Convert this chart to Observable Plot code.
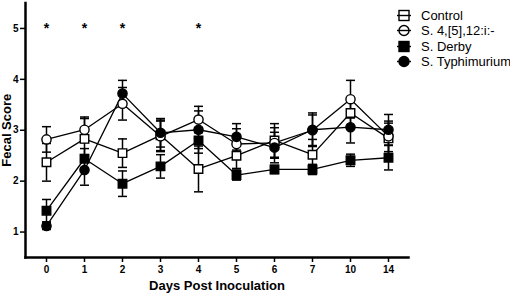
<!DOCTYPE html>
<html><head><meta charset="utf-8">
<script src="https://cdn.jsdelivr.net/npm/d3@7"></script>
<script src="https://cdn.jsdelivr.net/npm/@observablehq/plot@0.6"></script>
<style>
body{margin:0;background:#fff;font-family:"Liberation Sans",Arial,sans-serif;}
#wrap{position:relative;width:510px;height:295px;}
#legend{position:absolute;left:396px;top:8px;font-size:13px;line-height:15.3px;color:#000;}
#legend div{display:flex;align-items:center;white-space:nowrap;}
#legend svg{margin-right:9px;}
</style></head>
<body><div id="wrap"><div id="chart"></div><div id="legend"></div></div>
<script>
const days = ["0","1","2","3","4","5","6","7","10","14"];
const seriesNames = ["Control","S. 4,[5],12:i:-","S. Derby","S. Typhimurium"];
const controlMean = [2.37,2.83,2.55,2.90,2.24,2.50,2.80,2.52,3.34,2.84];
const controlSem  = [0.37,0.40,0.28,0.30,0.45,0.25,0.33,0.30,0.30,0.30];
const monoMean    = [2.82,3.01,3.52,2.88,3.21,2.73,2.75,3.00,3.61,2.88];
const monoSem     = [0.25,0.25,0.32,0.30,0.26,0.30,0.30,0.30,0.37,0.30];
const derbyMean   = [1.42,2.44,1.95,2.29,2.80,2.12,2.23,2.23,2.41,2.46];
const derbySem    = [0.22,0.20,0.25,0.23,0.25,0.10,0.08,0.10,0.12,0.24];
const typhMean    = [1.12,2.22,3.72,2.95,3.01,2.87,2.66,3.01,3.06,3.01];
const typhSem     = [0.07,0.30,0.26,0.28,0.37,0.26,0.30,0.33,0.31,0.30];
const starDays = ["0","1","2","4"];
const starLevel = 5;
const yTicks = [1,2,3,4,5];

const means = [controlMean, monoMean, derbyMean, typhMean];
const sems = [controlSem, monoSem, derbySem, typhSem];
const symbols = ["square","circle","square","circle"];
const fills = ["white","white","black","black"];
const data = [];
seriesNames.forEach((s,i)=>days.forEach((d,j)=>data.push({series:s, idx:i, day:d, mean:means[i][j], sem:sems[i][j]})));

const capSymbol = {draw(ctx, size){ ctx.moveTo(-4.5,0); ctx.lineTo(4.5,0); }};

const marks = [];
seriesNames.forEach((s,i)=>{
  const rows = data.filter(r=>r.idx===i);
  marks.push(Plot.ruleX(rows,{x:"day", y1:r=>r.mean-r.sem, y2:r=>r.mean+r.sem, stroke:"black", strokeWidth:1.5}));
  marks.push(Plot.dot(rows,{x:"day", y:r=>r.mean-r.sem, symbol:capSymbol, stroke:"black", strokeWidth:1.5, r:3}));
  marks.push(Plot.dot(rows,{x:"day", y:r=>r.mean+r.sem, symbol:capSymbol, stroke:"black", strokeWidth:1.5, r:3}));
  marks.push(Plot.line(rows,{x:"day", y:"mean", stroke:"black", strokeWidth:1.3}));
});
seriesNames.forEach((s,i)=>{
  const rows = data.filter(r=>r.idx===i);
  marks.push(Plot.dot(rows,{x:"day", y:"mean", symbol:symbols[i], r: symbols[i]==="square"?4.8:4.6, fill:fills[i], stroke:"black", strokeWidth:1.4}));
});

const chart = Plot.plot({
  width:510, height:295,
  marginLeft:25, marginRight:102, marginTop:2.5, marginBottom:38,
  style:{fontFamily:"Liberation Sans, Arial, sans-serif", fontSize:"10px", fontWeight:"bold", color:"black", background:"white"},
  x:{type:"band", domain:days, padding:0, label:null},
  y:{domain:[0.5,5.5], label:null},
  marks:[
    Plot.axisX({tickSize:5, tickPadding:3, strokeWidth:1.5, fontWeight:"bold", fontSize:10}),
    Plot.axisY({ticks:yTicks, tickFormat:d=>String(d), tickSize:5, tickPadding:2, strokeWidth:1.5, fontWeight:"bold", fontSize:10}),
    Plot.frame({anchor:"left", strokeWidth:2.5}),
    Plot.frame({anchor:"bottom", strokeWidth:2.5}),
    Plot.text(["Days Post Inoculation"],{frameAnchor:"bottom", dy:32, fontSize:13, fontWeight:"bold"}),
    Plot.text(["Fecal Score"],{frameAnchor:"left", dx:-19, rotate:-90, textAnchor:"middle", fontSize:13, fontWeight:"bold"}),
    Plot.text(starDays,{x:d=>d, y:()=>starLevel, text:()=>"*", fontSize:14, fontWeight:"bold", dy:0}),
    ...marks
  ]
});
document.getElementById("chart").appendChild(chart);

// legend
const leg = document.getElementById("legend");
seriesNames.forEach((s,i)=>{
  const row = document.createElement("div");
  const shape = symbols[i]==="square"
    ? `<rect x="3" y="2.5" width="10" height="10" fill="${fills[i]}" stroke="black" stroke-width="1.4"/>`
    : `<circle cx="8" cy="7.5" r="5" fill="${fills[i]}" stroke="black" stroke-width="1.4"/>`;
  row.innerHTML = `<svg width="16" height="15">${shape}<line x1="1" x2="15" y1="7.5" y2="7.5" stroke="black" stroke-width="1.4"/></svg><span>${s}</span>`;
  leg.appendChild(row);
});
</script></body></html>
